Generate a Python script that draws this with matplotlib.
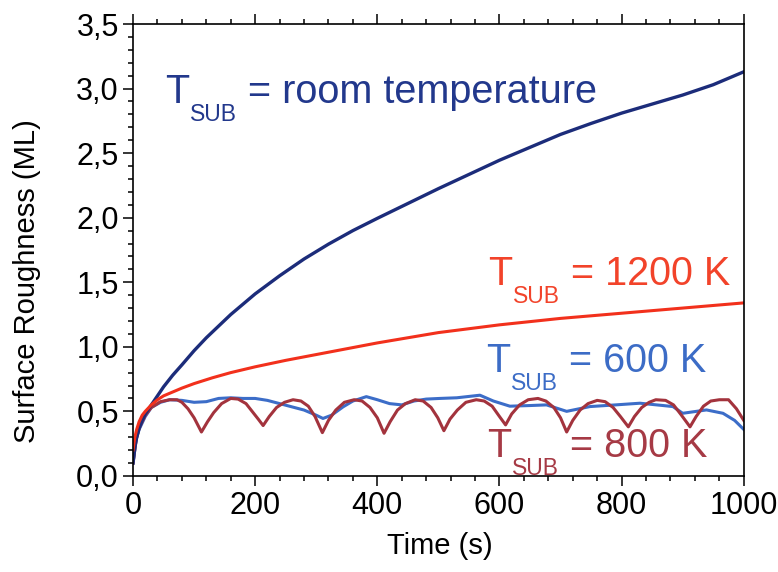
import matplotlib
matplotlib.use('Agg')
import matplotlib.pyplot as plt
from matplotlib.ticker import MultipleLocator, FuncFormatter

plt.rcParams['font.family'] = ['Liberation Sans', 'DejaVu Sans']

# room temperature
t_rt = [0, 3, 6, 10, 15, 20, 30, 40, 50, 65, 80, 100, 120, 140, 160, 180, 200,
        240, 280, 320, 360, 400, 450, 500, 550, 600, 650, 700, 750, 800, 850,
        900, 950, 1000]
r_rt = [0.10, 0.22, 0.30, 0.37, 0.43, 0.48, 0.55, 0.62, 0.69, 0.78, 0.86, 0.97,
        1.07, 1.16, 1.25, 1.33, 1.41, 1.55, 1.68, 1.795, 1.90, 1.995, 2.11, 2.225,
        2.335, 2.445, 2.545, 2.645, 2.73, 2.81, 2.88, 2.95, 3.03, 3.13]

# 1200 K
t_1200 = [0, 3, 6, 10, 15, 20, 30, 40, 50, 60, 80, 100, 130, 160, 200, 250, 300,
          350, 400, 450, 500, 550, 600, 650, 700, 750, 800, 850, 900, 950, 1000]
r_1200 = [0.20, 0.30, 0.36, 0.42, 0.47, 0.50, 0.55, 0.59, 0.62, 0.64, 0.68, 0.715,
          0.76, 0.80, 0.845, 0.895, 0.94, 0.985, 1.03, 1.07, 1.11, 1.14, 1.17,
          1.195, 1.22, 1.24, 1.26, 1.28, 1.30, 1.32, 1.34]

# 600 K
t_600 = [0, 5, 10, 20, 30, 45, 60, 80, 100, 120, 140, 160, 180, 200, 220, 240,
         260, 280, 300, 311, 325, 344, 360, 382, 400, 420, 440, 460, 480, 502,
         530, 568, 590, 617, 650, 677, 710, 748, 790, 830, 868, 884, 900, 939,
         966, 985, 1000]
r_600 = [0.10, 0.28, 0.36, 0.46, 0.53, 0.57, 0.59, 0.585, 0.57, 0.575, 0.60,
         0.605, 0.60, 0.60, 0.585, 0.56, 0.535, 0.51, 0.47, 0.445, 0.47, 0.535,
         0.58, 0.614, 0.59, 0.56, 0.55, 0.58, 0.595, 0.60, 0.605, 0.625, 0.58,
         0.54, 0.545, 0.55, 0.50, 0.537, 0.55, 0.563, 0.545, 0.537, 0.485, 0.511,
         0.485, 0.43, 0.36]

# 800 K
t_800 = [0, 5, 10, 20, 30, 45, 60, 72, 80, 90, 100, 112,
         122, 132, 145, 160, 172, 185, 195, 205, 213,
         223, 235, 248, 262, 275, 287, 298, 310,
         320, 332, 346, 362, 375, 388, 400, 411,
         421, 433, 446, 462, 475, 488, 499, 509,
         519, 531, 545, 562, 575, 588, 600, 610,
         620, 633, 647, 663, 676, 689, 700, 710,
         720, 732, 745, 760, 773, 786, 798, 811,
         821, 833, 845, 856, 872, 885, 898, 912,
         922, 934, 946, 960, 975, 988, 1000]
r_800 = [0.10, 0.28, 0.37, 0.47, 0.53, 0.575, 0.59, 0.59, 0.57, 0.52, 0.45, 0.34,
         0.42, 0.49, 0.56, 0.60, 0.595, 0.56, 0.50, 0.44, 0.39,
         0.46, 0.53, 0.57, 0.59, 0.58, 0.54, 0.46, 0.335,
         0.43, 0.51, 0.57, 0.59, 0.58, 0.53, 0.45, 0.33,
         0.42, 0.51, 0.56, 0.59, 0.58, 0.53, 0.45, 0.35,
         0.44, 0.51, 0.57, 0.59, 0.58, 0.54, 0.46, 0.395,
         0.48, 0.55, 0.59, 0.60, 0.58, 0.53, 0.45, 0.34,
         0.43, 0.51, 0.56, 0.585, 0.575, 0.53, 0.46, 0.38,
         0.46, 0.53, 0.57, 0.59, 0.585, 0.55, 0.47, 0.38,
         0.46, 0.54, 0.58, 0.59, 0.59, 0.52, 0.43]

fig = plt.figure(figsize=(7.78, 5.72), dpi=100)
ax = fig.add_axes([0.171, 0.168, 0.785, 0.790])

ax.plot(t_600, r_600, color='#3c6dc8', lw=2.2)
ax.plot(t_800, r_800, color='#a3333d', lw=2.2)
ax.plot(t_rt, r_rt, color='#1c2c7a', lw=2.4)
ax.plot(t_1200, r_1200, color='#f2301c', lw=2.2)

ax.set_xlim(0, 1000)
ax.set_ylim(0, 3.5)
ax.xaxis.set_major_locator(MultipleLocator(200))
ax.xaxis.set_minor_locator(MultipleLocator(40))
ax.yaxis.set_major_locator(MultipleLocator(0.5))
ax.yaxis.set_minor_locator(MultipleLocator(0.1))
ax.yaxis.set_major_formatter(FuncFormatter(lambda v, p: f'{v:.1f}'.replace('.', ',')))

for s in ax.spines.values():
    s.set_linewidth(1.2)
ax.tick_params(which='both', direction='out', top=True, right=False, width=1.1,
               labelsize=22)
ax.tick_params(which='major', length=7.2)
ax.tick_params(which='minor', length=3.6)
ax.tick_params(axis='x', pad=4)
ax.tick_params(axis='y', pad=3)

ax.set_xlabel('Time (s)', fontsize=21)
ax.set_ylabel('Surface Roughness (ML)', fontsize=21)
ax.xaxis.set_label_coords(0.502, -0.125)
ax.yaxis.set_label_coords(-0.15, 0.43)


def label(x, y, rest, color):
    ax.text(x, y, 'T', fontsize=28.5, color=color, va='baseline', ha='left')
    ax.annotate('SUB', xy=(x, y), xytext=(18, -13), textcoords='offset points',
                fontsize=16.5, color=color, va='baseline', ha='left')
    ax.annotate(rest, xy=(x, y), xytext=(60, 0), textcoords='offset points',
                fontsize=28.5, color=color, va='baseline', ha='left')


label(52, 2.889, '= room temperature', '#22388c')
label(581, 1.479, '= 1200 K', '#f2432a')
label(578, 0.806, '= 600 K', '#3c6cc6')
label(579, 0.147, '= 800 K', '#a63a45')

fig.savefig('out.png', dpi=100)
